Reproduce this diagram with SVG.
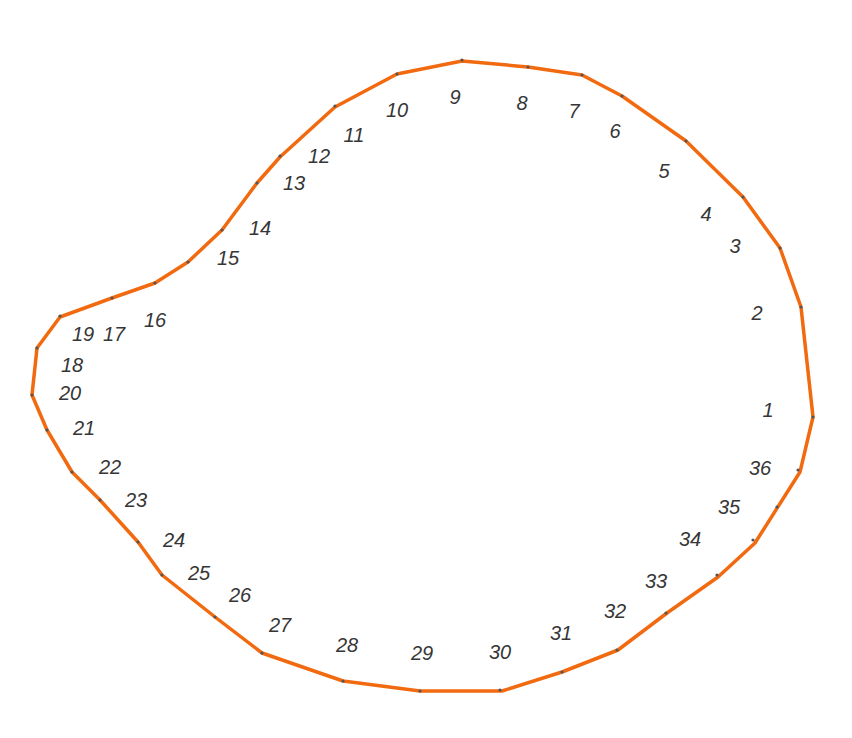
<svg xmlns="http://www.w3.org/2000/svg" width="852" height="738" viewBox="0 0 852 738">
<style>
.edge{fill:none;stroke:#f26a10;stroke-width:3.5;stroke-linejoin:round}
.pt{fill:#555}
.lb{font-family:"Liberation Sans",Arial,sans-serif;font-size:20px;font-style:italic;fill:#363636;text-anchor:middle}
</style>
<rect width="852" height="738" fill="#ffffff"/>
<g id="connectors">
<polygon class="edge" points="813,417 801,307 780,248 743,197 686,141 622,96 582,75 528,67 462,61 397,74 335,107 280,157 257,183 222,230 188,262 155,283 112,298 60,317 37,348 32,395 47,430 72,472 100,500 138,542 162,575 215,617 262,653 343,681 420,691 502,691 562,672 618,650 667,613 718,577 755,543 800,472"/>
</g>
<g id="vertices">
<circle class="pt" cx="813" cy="417" r="1.6"/><circle class="pt" cx="801" cy="307" r="1.6"/><circle class="pt" cx="780" cy="248" r="1.6"/><circle class="pt" cx="743" cy="197" r="1.6"/><circle class="pt" cx="686" cy="141" r="1.6"/><circle class="pt" cx="622" cy="96" r="1.6"/><circle class="pt" cx="582" cy="75" r="1.6"/><circle class="pt" cx="528" cy="67" r="1.6"/><circle class="pt" cx="462" cy="60" r="1.6"/><circle class="pt" cx="397" cy="74" r="1.6"/><circle class="pt" cx="335" cy="106" r="1.6"/><circle class="pt" cx="280" cy="156" r="1.6"/><circle class="pt" cx="257" cy="183" r="1.6"/><circle class="pt" cx="222" cy="230" r="1.6"/><circle class="pt" cx="188" cy="262" r="1.6"/><circle class="pt" cx="155" cy="283" r="1.6"/><circle class="pt" cx="112" cy="298" r="1.6"/><circle class="pt" cx="60" cy="316" r="1.6"/><circle class="pt" cx="37" cy="348" r="1.6"/><circle class="pt" cx="32" cy="395" r="1.6"/><circle class="pt" cx="47" cy="430" r="1.6"/><circle class="pt" cx="72" cy="472" r="1.6"/><circle class="pt" cx="100" cy="500" r="1.6"/><circle class="pt" cx="138" cy="542" r="1.6"/><circle class="pt" cx="162" cy="575" r="1.6"/><circle class="pt" cx="215" cy="617" r="1.6"/><circle class="pt" cx="262" cy="653" r="1.6"/><circle class="pt" cx="343" cy="681" r="1.6"/><circle class="pt" cx="420" cy="691" r="1.6"/><circle class="pt" cx="500" cy="690" r="1.6"/><circle class="pt" cx="562" cy="672" r="1.6"/><circle class="pt" cx="617" cy="650" r="1.6"/><circle class="pt" cx="666" cy="613" r="1.6"/><circle class="pt" cx="717" cy="575" r="1.6"/><circle class="pt" cx="753" cy="540" r="1.6"/><circle class="pt" cx="777" cy="507" r="1.6"/><circle class="pt" cx="798" cy="470" r="1.6"/>
</g>
<g id="labels">
<g id="n1"><text class="lb" x="768" y="417">1</text></g>
<g id="n2"><text class="lb" x="757" y="320">2</text></g>
<g id="n3"><text class="lb" x="735" y="253">3</text></g>
<g id="n4"><text class="lb" x="706" y="221">4</text></g>
<g id="n5"><text class="lb" x="664" y="178">5</text></g>
<g id="n6"><text class="lb" x="615" y="138">6</text></g>
<g id="n7"><text class="lb" x="574" y="118">7</text></g>
<g id="n8"><text class="lb" x="522" y="110">8</text></g>
<g id="n9"><text class="lb" x="455" y="104">9</text></g>
<g id="n10"><text class="lb" x="397" y="117">10</text></g>
<g id="n11"><text class="lb" x="354" y="142">11</text></g>
<g id="n12"><text class="lb" x="319" y="163">12</text></g>
<g id="n13"><text class="lb" x="294" y="190">13</text></g>
<g id="n14"><text class="lb" x="260" y="235">14</text></g>
<g id="n15"><text class="lb" x="228" y="265">15</text></g>
<g id="n16"><text class="lb" x="155" y="327">16</text></g>
<g id="n17"><text class="lb" x="114" y="341">17</text></g>
<g id="n18"><text class="lb" x="72" y="372">18</text></g>
<g id="n19"><text class="lb" x="83" y="341">19</text></g>
<g id="n20"><text class="lb" x="70" y="400">20</text></g>
<g id="n21"><text class="lb" x="84" y="435">21</text></g>
<g id="n22"><text class="lb" x="110" y="474">22</text></g>
<g id="n23"><text class="lb" x="136" y="507">23</text></g>
<g id="n24"><text class="lb" x="174" y="547">24</text></g>
<g id="n25"><text class="lb" x="199" y="580">25</text></g>
<g id="n26"><text class="lb" x="240" y="602">26</text></g>
<g id="n27"><text class="lb" x="280" y="632">27</text></g>
<g id="n28"><text class="lb" x="347" y="652">28</text></g>
<g id="n29"><text class="lb" x="422" y="660">29</text></g>
<g id="n30"><text class="lb" x="500" y="659">30</text></g>
<g id="n31"><text class="lb" x="561" y="640">31</text></g>
<g id="n32"><text class="lb" x="615" y="618">32</text></g>
<g id="n33"><text class="lb" x="656" y="588">33</text></g>
<g id="n34"><text class="lb" x="690" y="546">34</text></g>
<g id="n35"><text class="lb" x="729" y="514">35</text></g>
<g id="n36"><text class="lb" x="760" y="475">36</text></g>
</g>
</svg>
